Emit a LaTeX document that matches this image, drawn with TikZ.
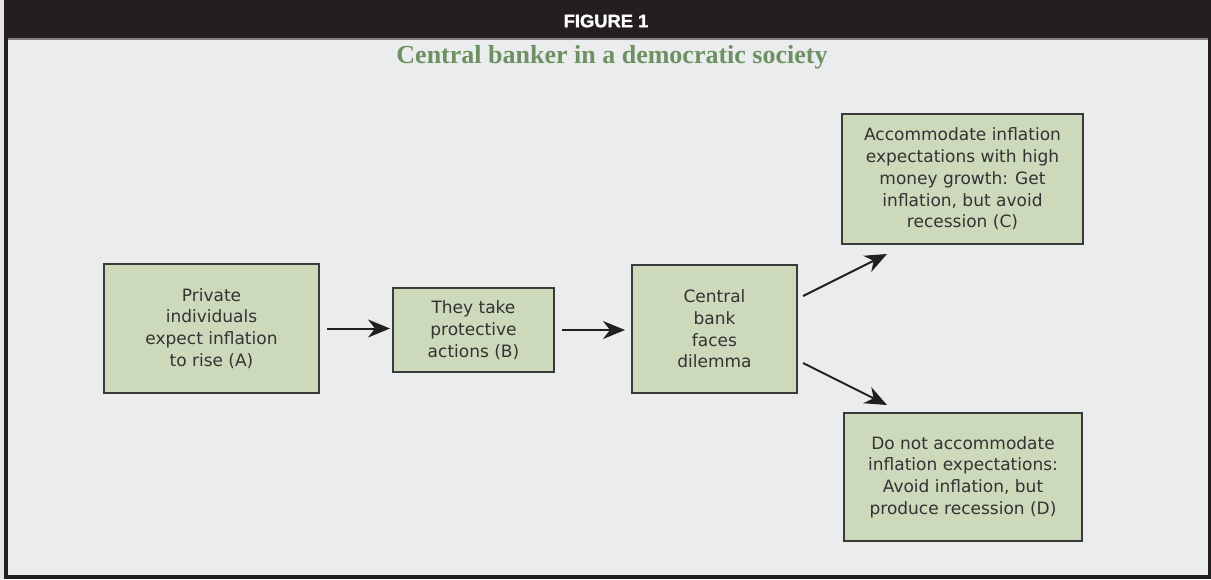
\documentclass[tikz,border=0pt]{standalone}
\usepackage{fontspec}
\setmainfont{Liberation Serif}
\newfontfamily\boxfont{DejaVu Sans}
\newfontfamily\headfont[BoldFeatures={FakeBold=1.5}]{Liberation Sans}
\newfontfamily\subfont{Liberation Serif}
\usetikzlibrary{arrows.meta}
\definecolor{framedark}{HTML}{231F20}
\definecolor{panelbg}{HTML}{EBECEE}
\definecolor{boxfill}{HTML}{CDD9BB}
\definecolor{boxline}{HTML}{3A3A3A}
\definecolor{titlegreen}{HTML}{6E9163}
\definecolor{textgray}{HTML}{333333}
\begin{document}
\begin{tikzpicture}[x=1pt,y=-1pt,
  stepbox/.style={draw=boxline, line width=2pt, fill=boxfill, inner sep=0pt,
    align=center, text=textgray, font=\boxfont\fontsize{17}{21.7}\selectfont},
  arr/.style={draw=framedark, line width=2pt,
    -{Stealth[length=22pt,width=18pt,inset=7pt]}}]
\useasboundingbox (0,0) rectangle (1211,579);
% outer frame
\fill[gray!20] (0,0) rectangle (1211,579);
\fill[framedark] (4,0) rectangle (1211,579);
\fill[panelbg] (8,38) rectangle (1208,575);
\draw[gray, line width=1.5pt] (8,39) -- (1208,39);
% titles
\node[text=white, font=\headfont\bfseries\fontsize{18}{18}\selectfont] (fig) at (606,21) {\scalebox{1.02}[1]{FIGURE 1}};
\node[text=titlegreen, font=\subfont\bfseries\fontsize{26}{26}\selectfont, anchor=base] (sub) at (612,63) {Central banker in a democratic society};
% boxes
\node[stepbox, minimum width=215pt, minimum height=129pt] (A) at (211.5,328.5)
  {Private\\individuals\\expect inflation\\to rise (A)};
\node[stepbox, minimum width=161pt, minimum height=84pt] (B) at (473.5,330)
  {They take\\protective\\actions (B)};
\node[stepbox, minimum width=165pt, minimum height=128pt] (M) at (714.5,329)
  {Central\\bank\\faces\\dilemma};
\node[stepbox, minimum width=241pt, minimum height=130pt] (C) at (962.5,179)
  {Accommodate inflation\\expectations with high\\money growth: Get\\inflation, but avoid\\recession (C)};
\node[stepbox, minimum width=238pt, minimum height=128pt] (D) at (963,477)
  {Do not accommodate\\inflation expectations:\\Avoid inflation, but\\produce recession (D)};
% connectors
\draw[arr] ([xshift=7pt]A.east) -- ([xshift=-2pt]B.west |- A.east);
\draw[arr] ([xshift=7pt]B.east) -- ([xshift=-6pt]M.west |- B.east);
\draw[arr] ([shift={(5pt,33pt)}]M.east) -- ([shift={(46pt,-9pt)}]C.south west);
\draw[arr] ([shift={(5pt,-34pt)}]M.east) -- ([shift={(44pt,7pt)}]D.north west);
\end{tikzpicture}
\end{document}
